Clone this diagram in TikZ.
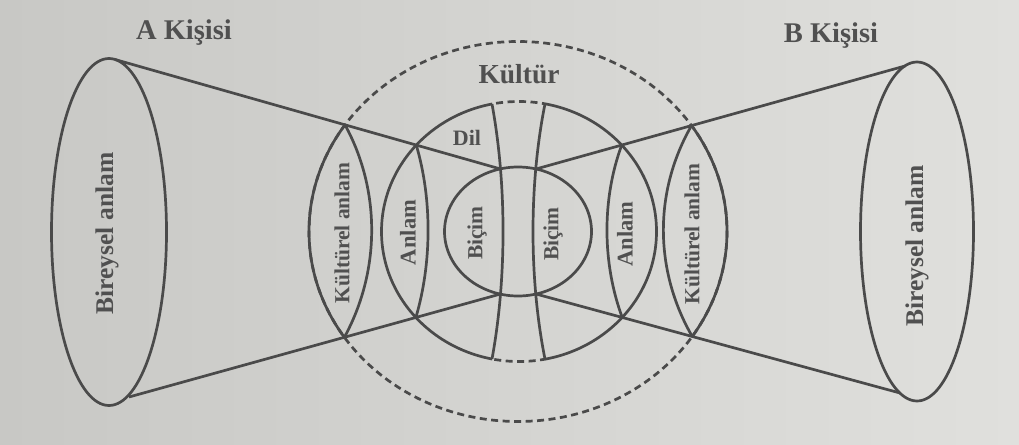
\documentclass[tikz,border=0pt]{standalone}
\usepackage{fontspec}
\setmainfont{Liberation Serif}
\usetikzlibrary{calc,intersections}
\definecolor{ink}{RGB}{74,74,74}
\definecolor{txt}{RGB}{80,80,80}
\definecolor{paperL}{RGB}{200,200,197}
\definecolor{paperM}{RGB}{215,215,212}
\definecolor{paperR}{RGB}{224,224,221}
\begin{document}
\begin{tikzpicture}[x=1pt,y=-1pt,
  line/.style={draw=ink, line width=2.7pt},
  dsh/.style={draw=ink, line width=2.7pt, dash pattern=on 7pt off 4.5pt},
  lbl/.style={text=txt, inner sep=0pt, font=\fontsize{#1}{#1}\selectfont\bfseries},
]
\useasboundingbox (0,0) rectangle (1019,444);
\shade[left color=paperL, middle color=paperM, right color=paperR] (0,0) rectangle (1019,444);

% key points
\coordinate (C) at (518,231.5);
\coordinate (CD) at (519,231.5);
\coordinate (EA) at (109,232);
\coordinate (EB) at (917,231.5);
\coordinate (at) at (115,59.5);
\coordinate (ab) at (129,397);
\coordinate (bt) at (905,66);
\coordinate (bb) at (900,393);
\coordinate (ia) at (500.5,169);
\coordinate (ib) at (500.5,294);
\coordinate (ja) at (536,169);
\coordinate (jb) at (536,294);
\coordinate (v1t) at (492,104);
\coordinate (v1b) at (492,359);
\coordinate (v2t) at (545,103.85);
\coordinate (v2b) at (545,359.15);

% invisible paths for intersections
\path[name path=K] (C) ellipse[x radius=209, y radius=190];
\path[name path=D] (CD) ellipse[x radius=137.5, y radius=130];
\path[name path=LA1] (at) -- (ia);
\path[name path=LA2] (ab) -- (ib);
\path[name path=LB1] (bt) -- (ja);
\path[name path=LB2] (bb) -- (jb);
\path[name intersections={of=K and LA1, by=kA1}];
\path[name intersections={of=K and LA2, by=kA2}];
\path[name intersections={of=K and LB1, by=kB1}];
\path[name intersections={of=K and LB2, by=kB2}];
\path[name intersections={of=D and LA1, by=dA1}];
\path[name intersections={of=D and LA2, by=dA2}];
\path[name intersections={of=D and LB1, by=dB1}];
\path[name intersections={of=D and LB2, by=dB2}];

% outer Kultur ellipse: dashed, solid where it bounds the lenses
\draw[dsh] (C) ellipse[x radius=209, y radius=190];
\begin{scope}
  \clip (kA1) -- (kA2) -- (0,444) -- (0,0) -- cycle;
  \draw[line] (C) ellipse[x radius=209, y radius=190];
\end{scope}
\begin{scope}
  \clip (kB1) -- (kB2) -- (1019,444) -- (1019,0) -- cycle;
  \draw[line] (C) ellipse[x radius=209, y radius=190];
\end{scope}

% Dil circle: solid, dashed between the two vertical curves
\begin{scope}
  \clip (0,0) rectangle (492,444) (545,0) rectangle (1019,444);
  \draw[line] (CD) ellipse[x radius=137.5, y radius=130];
\end{scope}
\begin{scope}
  \clip (492,0) rectangle (545,444);
  \draw[dsh, dash phase=2pt] (CD) ellipse[x radius=137.5, y radius=130];
\end{scope}

% lens inner arcs
\draw[line] (kA1) .. controls ($(kA1)+(36,66)$) and ($(kA2)+(36,-66)$) .. (kA2);
\draw[line] (kB1) .. controls ($(kB1)+(-38,66)$) and ($(kB2)+(-38,-66)$) .. (kB2);
\draw[line] (dA1) .. controls ($(dA1)+(16,54)$) and ($(dA2)+(16,-54)$) .. (dA2);
\draw[line] (dB1) .. controls ($(dB1)+(-20,54)$) and ($(dB2)+(-20,-54)$) .. (dB2);

% vertical curves
\draw[line] (v1t) .. controls ($(v1t)+(14.7,80)$) and ($(v1b)+(14.7,-80)$) .. (v1b);
\draw[line] (v2t) .. controls ($(v2t)+(-16,80)$) and ($(v2b)+(-16,-80)$) .. (v2b);

% Bicim ellipse
\draw[line] (C) ellipse[x radius=73.5, y radius=64.5];

% person ellipses and cone lines
\draw[line] (EA) ellipse[x radius=57.5, y radius=173.5];
\draw[line] (EB) ellipse[x radius=56.5, y radius=169.5];
\draw[line] (at) -- (ia);
\draw[line] (ab) -- (ib);
\draw[line] (bt) -- (ja);
\draw[line] (bb) -- (jb);

% labels
\node[lbl=28.5, anchor=base] (ta) at (184,40) {A Kişisi};
\node[lbl=28.5, anchor=base] (tb) at (831,42) {B Kişisi};
\node[lbl=27.5, anchor=base] (tk) at (519,83) {Kültür};
\node[lbl=22, anchor=base] (td) at (467,145) {Dil};
\node[lbl=25.5, rotate=90] (ba) at (107,233.5) {Bireysel anlam};
\node[lbl=25.5, rotate=90] (bbn) at (917,246) {Bireysel anlam};
\node[lbl=21.5, rotate=90] (ka) at (342,233) {Kültürel anlam};
\node[lbl=21.5, rotate=90] (kb) at (692,234) {Kültürel anlam};
\node[lbl=22.5, rotate=90] (aa) at (408,232.5) {Anlam};
\node[lbl=22.5, rotate=90] (ab2) at (625,234) {Anlam};
\node[lbl=21.5, rotate=90] (bca) at (477,233) {Biçim};
\node[lbl=21.5, rotate=90] (bcb) at (553,234) {Biçim};
\end{tikzpicture}
\end{document}
